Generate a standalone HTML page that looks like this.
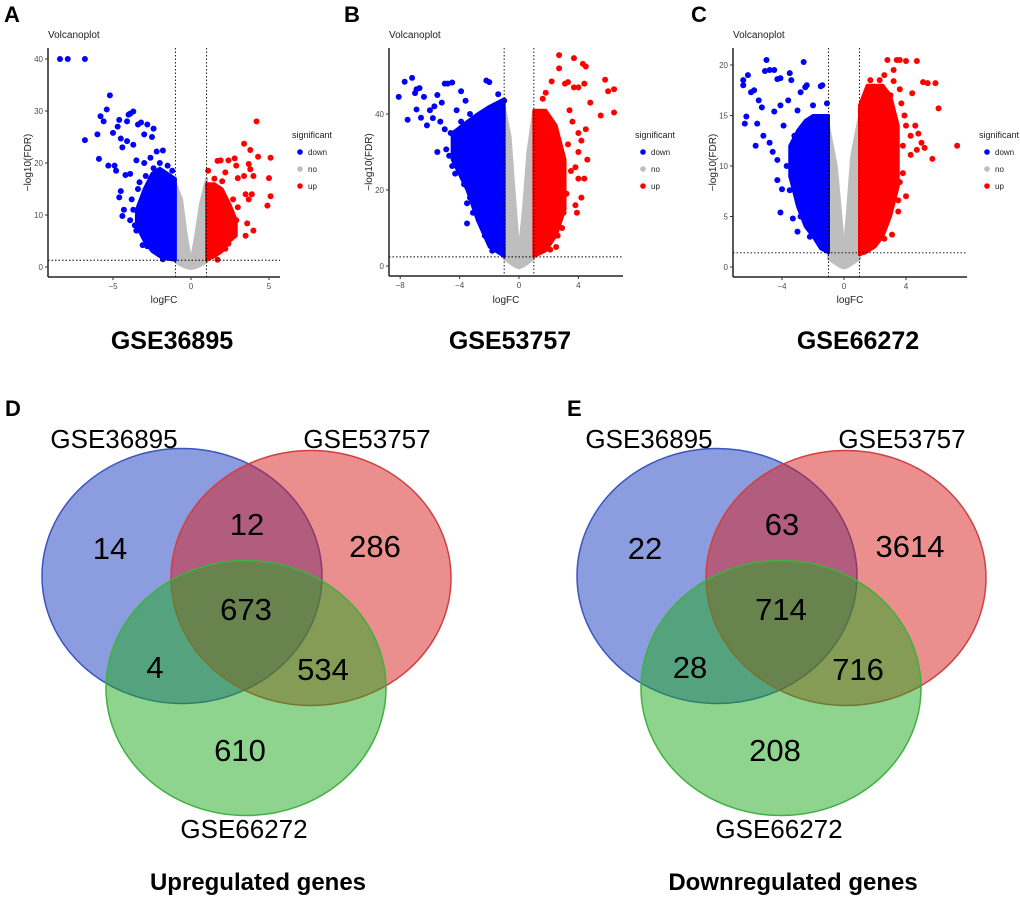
<!DOCTYPE html>
<html><head><meta charset="utf-8"><style>
html,body{margin:0;padding:0;background:#fff;}
svg{display:block;font-family:"Liberation Sans",Arial,sans-serif;}
</style></head><body>
<svg id="fig" width="1020" height="906" viewBox="0 0 1020 906"></svg>
<script>
// ---------- Volcano data (logFC, -log10 FDR) ----------
const aDown=[[-8.4,40],[-7.9,40],[-6.8,40],[-5.2,33],[-5.4,30.3],[-5.8,29],[-5.6,28],[-6,25.5],[-6.8,24.4],[-5.9,20.8],[-5.3,19.5],[-4.9,19.5],[-5,25.8],[-4.7,27],[-4.6,28.3],[-4.1,28],[-3.9,29.5],[-3.7,29.9],[-4,29.3],[-3.2,27.8],[-2.8,27.4],[-2.4,26.6],[-3.4,27.4],[-2.5,25],[-3,25.5],[-4.5,24.7],[-4.4,23],[-4.1,24.2],[-3.7,23.5],[-2.2,22.2],[-1.8,22.4],[-4.8,18.5],[-4.2,17.7],[-3.9,17.9],[-4.5,14.6],[-4.6,13.4],[-4.3,11],[-4.4,9.8],[-3.5,7],[-3.6,8],[-3.1,4.2],[-3.2,9.5],[-3.8,13],[-3.3,16.3],[-3.5,20.5],[-3,20],[-2.6,21],[-2.7,15],[-2.2,5],[-2,3],[-1.8,1.5],[-1.2,18.5],[-1.5,19.5],[-2,20],[-2.4,19],[-2.9,17.5],[-3.4,15],[-3.7,11],[-3.9,9],[-2.8,4],[-2.5,3.5]];
const aUp=[[4.2,28],[3.4,23.7],[3.8,22.5],[4.3,21.2],[5.1,21],[3.7,19.8],[3.8,18.8],[4,17.5],[3.4,17.5],[2.8,20.9],[2.9,19.5],[2.4,20.5],[1.9,20.5],[1.7,20.4],[2.2,18.2],[3,17.1],[5,17.1],[3.5,14],[3.7,13],[3.9,14],[4.9,11.8],[5.1,13.6],[3.6,8.4],[4,7],[3.5,6],[2.9,9],[2.6,10.5],[2.2,3.5],[1.7,1.4],[1.1,18.5],[1.3,15],[2.7,13],[3,11.5],[2.4,4.5],[1.5,17],[2,16.5]];
const aDenseDownX=[-1,-1.5,-2,-2.5,-3,-3.5];
const aDenseDownHi=[17,18,19,18,15,11];
const aDenseDownLo=[1.3,1.5,2,3,5,8];
const aNoX=[-1,-0.6,-0.3,0,0.3,0.6,1];
const aNoHi=[16,13,6,1,6,12,17];
const aNoLo=[1,0.3,-0.1,-0.3,-0.1,0.3,1];
const aDenseUpX=[1,1.5,2,2.5,2.9];
const aDenseUpHi=[16,16,15,12,9];
const aDenseUpLo=[1.3,2,3,5,6];

const bDown=[[-8.1,44.5],[-7.7,48.5],[-7.2,49.5],[-7.5,38.5],[-6.9,46.5],[-7,45.5],[-6.7,46.8],[-6.4,44.5],[-6.9,41.2],[-6.6,39],[-6,41],[-6.2,37],[-5.5,45],[-5.8,38.9],[-5.2,43],[-5,48],[-4.8,48],[-4.5,48.3],[-5.3,38],[-5,36],[-4.9,30.7],[-5.5,30],[-4.7,29],[-4.5,26.3],[-4.3,24.3],[-3.9,24.2],[-3.7,21.5],[-3.4,20.5],[-3.5,16.5],[-3.5,11.2],[-3.1,14],[-2.9,16],[-2.2,48.8],[-2,48.4],[-1.4,45.2],[-1,43.5],[-3.9,46],[-3.6,43.5],[-3.9,38],[-4.6,35],[-5.7,42],[-4.2,41],[-3.3,40],[-4.3,32],[-4.1,28],[-3.3,18],[-2.7,12],[-2.3,8],[-1.8,4]];
const bUp=[[2.7,55.5],[2.7,52],[3.7,54.7],[4.3,53.2],[4.5,52.5],[5.8,49],[2.2,48.6],[3.1,48],[3.3,48.4],[3.7,47],[4,47],[4.8,43],[5.5,39.6],[6,46],[6.4,46.5],[6.4,40.4],[4.4,48],[4.5,36],[4,35],[4.2,33],[4,30],[4.6,28],[3.8,26],[4,23],[4.4,23],[4.2,18],[3.8,16],[3.9,14],[3.2,19],[2.9,10],[2.5,5],[2.1,4.3],[1.6,44],[1.8,45.6],[3.4,41],[3.6,38],[3.3,32],[3.5,25],[3,14],[2.6,8]];
const bDenseDownX=[-1,-2,-2.8,-3.5,-4.5];
const bDenseDownHi=[44,42,40,38,35];
const bDenseDownLo=[2.5,5,12,20,28];
const bNoX=[-1,-0.6,-0.3,0,0.3,0.6,1];
const bNoHi=[42,34,18,3,15,30,41];
const bNoLo=[2,0.8,0,-0.5,0,0.8,2];
const bDenseUpX=[1,1.8,2.5,3.1];
const bDenseUpHi=[41,41,37,28];
const bDenseUpLo=[2.5,4,8,15];

const cDown=[[-6.5,18],[-6.5,18.5],[-6.2,19],[-6,17.3],[-5.8,17.5],[-6.3,14.9],[-6.4,14.2],[-5.7,12],[-5.6,14.2],[-5.3,15.8],[-5.1,19.4],[-5,20.5],[-4.8,19.5],[-4.5,19.5],[-4.3,18.6],[-4.1,18.7],[-3.5,19.2],[-3.4,18.5],[-2.6,20.3],[-2.8,17.3],[-2.5,17.8],[-2.4,18],[-1.5,17.9],[-1.4,18],[-1.1,16.2],[-5.2,13],[-4.8,12.3],[-4.6,11.4],[-4.3,10.6],[-4.3,8.6],[-4,7.7],[-4.1,5.4],[-3.5,7.6],[-3.3,4.8],[-3,3.5],[-4.5,15.4],[-4.1,16],[-3.6,16.5],[-3.9,14],[-3.2,13],[-5.5,16.5],[-3.7,10],[-3.4,9],[-2.8,5],[-2.2,3],[-2,16],[-3,15.5]];
const cUp=[[2.8,20.5],[3.4,20.5],[3.6,20.5],[4,20.4],[4.7,20.4],[3.2,19.5],[3.2,18.4],[2.3,18.5],[1.7,18.5],[5.1,18.3],[5.4,18.2],[5.9,18.2],[6.1,15.7],[7.3,12],[5.7,10.7],[5.2,11.8],[5,12.3],[4.7,11.6],[4.3,11.1],[4.3,13],[4.6,14],[4.8,13.2],[3.9,15],[4,14],[3.7,16.2],[3.6,17.6],[4.4,17.2],[3.8,9.3],[3.6,8.4],[4,7],[3.5,6.6],[3.5,5.5],[3.1,3.2],[2.6,2.8],[1.3,1.5],[1.2,16],[2.6,19],[3,17],[3.8,12],[3.3,9]];
const cDenseDownX=[-1,-1.5,-2,-2.5,-3,-3.5];
const cDenseDownHi=[15,15,15,14.5,13.5,12];
const cDenseDownLo=[1.4,1.8,3,4,6,9];
const cNoX=[-1,-0.5,-0.2,0,0.2,0.5,1];
const cNoHi=[14,10,5,1.5,5,11,15];
const cNoLo=[0.8,0.3,0,-0.1,0,0.3,0.8];
const cDenseUpX=[1,1.5,2,2.5,3,3.5];
const cDenseUpHi=[16,18,18,18,17,14];
const cDenseUpLo=[1.2,1.5,2,3,5,8];

const aYTicks=[0,10,20,30,40], aXTicks=[-5,0,5];
const bYTicks=[0,20,40], bXTicks=[-8,-4,0,4];
const cYTicks=[0,5,10,15,20], cXTicks=[-4,0,4];

// ---------- Venn data ----------
const vennUpCounts=["14","12","286","673","4","534","610"];
const vennDownCounts=["22","63","3614","714","28","716","208"];
const vennSets=["GSE36895","GSE53757","GSE66272"];

const NS="http://www.w3.org/2000/svg";
const svg=document.getElementById('fig');
function mk(tag,attrs,parent,text){const e=document.createElementNS(NS,tag);for(const k in attrs)e.setAttribute(k,attrs[k]);if(text!==undefined)e.textContent=text;(parent||svg).appendChild(e);return e;}

function volcano(id,cfg,down,up,dDX,dDH,dDL,nX,nH,nL,dUX,dUH,dUL,yT,xT,title,letter){
  const g=mk('g',{});
  
  
  const sx=v=>cfg.x0+v*cfg.kx, sy=v=>cfg.y0-v*cfg.ky;
  const lt=mk('text',{x:cfg.letterX,y:22,'font-size':22,'font-weight':'bold'},g,letter);
  
  
  const tt=mk('text',{x:cfg.L,y:38,'font-size':10,fill:'#222'},g,'Volcanoplot');
  
  
  function band(xs,hi,lo,col,name){
    let pts=xs.map((x,i)=>sx(x)+','+sy(hi[i]));
    for(let i=xs.length-1;i>=0;i--)pts.push(sx(xs[i])+','+sy(lo[i]));
    const p=mk('polygon',{points:pts.join(' '),fill:col,stroke:col,'stroke-width':3,'stroke-linejoin':'round'},g);
    
    
  }
  band(nX,nH,nL,'#bebebe','no-dense');
  band(dDX,dDH,dDL,'#0000ff','down-dense');
  band(dUX,dUH,dUL,'#ff0000','up-dense');
  down.forEach(d=>{const c=mk('circle',{cx:sx(d[0]),cy:sy(d[1]),r:3,fill:'#0000ff'},g);
    
    });
  up.forEach(d=>{const c=mk('circle',{cx:sx(d[0]),cy:sy(d[1]),r:3,fill:'#ff0000'},g);
    
    });
  [-1,1].forEach(v=>{const l=mk('line',{x1:sx(v),x2:sx(v),y1:cfg.T,y2:cfg.B,stroke:'#000','stroke-width':0.9,'stroke-dasharray':'1.5,2'},g);
    
    });
  const hl=mk('line',{x1:cfg.L,x2:cfg.R,y1:sy(cfg.h),y2:sy(cfg.h),stroke:'#000','stroke-width':0.9,'stroke-dasharray':'1.5,2'},g);
  
  
  const ya=mk('line',{x1:cfg.L,x2:cfg.L,y1:cfg.T,y2:cfg.B,stroke:'#222','stroke-width':1.5},g);
  
  
  const xa=mk('line',{x1:cfg.L,x2:cfg.R,y1:cfg.B,y2:cfg.B,stroke:'#222','stroke-width':1.5},g);
  
  
  yT.forEach(v=>{mk('line',{x1:cfg.L-3,x2:cfg.L,y1:sy(v),y2:sy(v),stroke:'#333'},g);
    const t=mk('text',{x:cfg.L-5,y:sy(v)+3,'font-size':8,fill:'#4d4d4d','text-anchor':'end'},g,String(v));
    
    });
  xT.forEach(v=>{mk('line',{x1:sx(v),x2:sx(v),y1:cfg.B,y2:cfg.B+3,stroke:'#333'},g);
    const t=mk('text',{x:sx(v),y:cfg.B+12,'font-size':8,fill:'#4d4d4d','text-anchor':'middle'},g,v<0?'\u2212'+(-v):String(v));
    
    });
  const xl=mk('text',{x:(cfg.L+cfg.R)/2,y:303,'font-size':10,'text-anchor':'middle',fill:'#222'},g,'logFC');
  
  
  const yl=mk('text',{x:0,y:0,'font-size':10,'text-anchor':'middle',fill:'#222',transform:`translate(${cfg.L-17},${(cfg.T+cfg.B)/2}) rotate(-90)`},g,'\u2212log10(FDR)');
  
  
  const lg=mk('g',{},g);
  
  
  mk('text',{x:cfg.lx,y:138,'font-size':9,fill:'#222'},lg,'significant');
  [['down','#0000ff',152],['no','#bebebe',169],['up','#ff0000',186]].forEach(e=>{
    const eg=mk('g',{},lg);
    
    
    mk('circle',{cx:cfg.lx+8,cy:e[2],r:2.8,fill:e[1]},eg);
    mk('text',{x:cfg.lx+16,y:e[2]+3,'font-size':8,fill:'#222'},eg,e[0]);});
  const bt=mk('text',{x:cfg.tx,y:349,'font-size':25,'font-weight':'bold','text-anchor':'middle'},g,title);
  
  
}
volcano('volcano-a',{x0:191,kx:15.6,y0:267,ky:5.2,L:48,R:280,B:277,T:48,h:1.3,lx:292,tx:172,letterX:4},aDown,aUp,aDenseDownX,aDenseDownHi,aDenseDownLo,aNoX,aNoHi,aNoLo,aDenseUpX,aDenseUpHi,aDenseUpLo,aYTicks,aXTicks,'GSE36895','A');
volcano('volcano-b',{x0:519,kx:14.85,y0:266,ky:3.8,L:389,R:623,B:276,T:48,h:2.4,lx:635,tx:510,letterX:344},bDown,bUp,bDenseDownX,bDenseDownHi,bDenseDownLo,bNoX,bNoHi,bNoLo,bDenseUpX,bDenseUpHi,bDenseUpLo,bYTicks,bXTicks,'GSE53757','B');
volcano('volcano-c',{x0:844,kx:15.5,y0:267,ky:10.1,L:733,R:967,B:277,T:48,h:1.4,lx:979,tx:858,letterX:691},cDown,cUp,cDenseDownX,cDenseDownHi,cDenseDownLo,cNoX,cNoHi,cNoLo,cDenseUpX,cDenseUpHi,cDenseUpLo,cYTicks,cXTicks,'GSE66272','C');

function venn(id,ox,counts,title,letter,lx){
  const g=mk('g',{});
  
  
  const lt=mk('text',{x:lx,y:416,'font-size':22,'font-weight':'bold'},g,letter);
  
  
  const circ=[[182,576,'#1a3cc0','#3a55c0'],[311,578,'#d81e1e','#d04040'],[246,688,'#1eaa1e','#40b040']];
  circ.forEach((c,i)=>{const e=mk('ellipse',{cx:ox+c[0],cy:c[1],rx:140,ry:127.5,fill:c[2],'fill-opacity':0.5,stroke:c[3],'stroke-width':1.5},g);
    
    });
  const setPos=[[114,448],[367,448],[244,838]];
  vennSets.forEach((s,i)=>{const t=mk('text',{x:ox+setPos[i][0],y:setPos[i][1],'font-size':26,'text-anchor':'middle'},g,s);
    
    });
  const pos=[[110,559],[247,535],[375,557],[246,620],[155,678],[323,680],[240,761]];
  counts.forEach((c,i)=>{const t=mk('text',{x:ox+pos[i][0],y:pos[i][1],'font-size':31,'text-anchor':'middle'},g,c);
    
    });
  const tt=mk('text',{x:ox+258,y:890,'font-size':24,'font-weight':'bold','text-anchor':'middle'},g,title);
  
  
}
venn('venn-upregulated',0,vennUpCounts,'Upregulated genes','D',5);
venn('venn-downregulated',535,vennDownCounts,'Downregulated genes','E',567);
</script>
</body></html>
